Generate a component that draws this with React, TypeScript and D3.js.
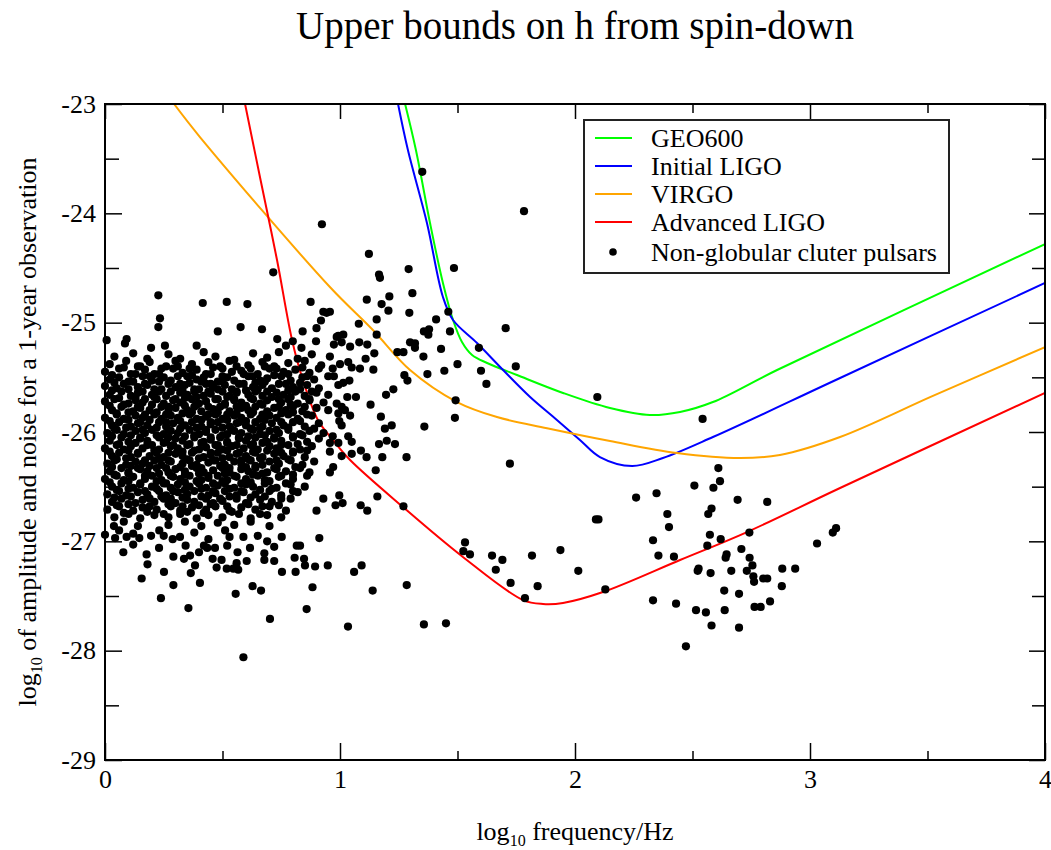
import React, { useEffect, useRef } from 'react';
import * as d3 from 'd3';

const W = 1051;
const H = 850;
const FONT = '"Liberation Serif", "Times New Roman", serif';

const xMajor = [0, 1, 2, 3, 4];
const xMinor = [0.5, 1.5, 2.5, 3.5];
const yMajor = [-29, -28, -27, -26, -25, -24, -23];
const yMinor = [-28.5, -27.5, -26.5, -25.5, -24.5, -23.5];

// sensitivity curves, [log10 f, log10 h]
const geo600: [number, number][] = [
  [1.277, -23.0], [1.323, -23.421], [1.383, -24.088], [1.438, -24.637], [1.481, -24.976],
  [1.519, -25.177], [1.562, -25.296], [1.626, -25.369], [1.753, -25.479], [1.949, -25.643],
  [2.149, -25.781], [2.319, -25.845], [2.447, -25.817], [2.587, -25.726], [2.86, -25.433],
  [4.0, -24.281],
];
const initialLigo: [number, number][] = [
  [1.247, -23.0], [1.289, -23.421], [1.37, -24.088], [1.438, -24.765], [1.481, -24.976],
  [1.583, -25.186], [1.694, -25.433], [1.809, -25.68], [1.923, -25.89], [2.021, -26.073],
  [2.106, -26.229], [2.243, -26.311], [2.374, -26.238], [2.587, -26.046], [3.128, -25.506],
  [4.0, -24.637],
];
const virgo: [number, number][] = [
  [0.294, -23.0], [0.404, -23.302], [0.957, -24.674], [1.14, -25.067], [1.298, -25.433],
  [1.498, -25.726], [1.668, -25.863], [1.881, -25.965], [2.149, -26.082], [2.434, -26.192],
  [2.702, -26.238], [2.872, -26.21], [3.128, -26.046], [3.523, -25.67], [4.0, -25.223],
];
const advancedLigo: [number, number][] = [
  [0.596, -23.0], [0.662, -23.695], [0.732, -24.427], [0.796, -25.159], [0.838, -25.497],
  [0.906, -25.89], [0.97, -26.073], [1.043, -26.256], [1.268, -26.686], [1.523, -27.143],
  [1.779, -27.537], [1.864, -27.573], [1.949, -27.564], [2.119, -27.464], [2.447, -27.171],
  [2.732, -26.915], [3.128, -26.512], [4.0, -25.643],
];

// pulsars in the dense low-frequency group
const pulsarsCore: [number, number][] = [
  [0.04,-25.31],[0.12,-25.28],[0.18,-25.33],[0.27,-25.29],[0.32,-25.33],[0.42,-25.27],[0.47,-25.31],[0.55,-25.34],[0.63,-25.28],[0.69,-25.32],[0.74,-25.27],[0.82,-25.33],[0.88,-25.29],
  [0.02,-25.38],[0.09,-25.35],[0.14,-25.4],[0.19,-25.36],[0.26,-25.4],[0.3,-25.35],[0.37,-25.38],[0.44,-25.36],[0.49,-25.4],[0.53,-25.35],[0.61,-25.39],[0.67,-25.36],[0.72,-25.4],[0.78,-25.37],[0.85,-25.35],[0.92,-25.39],
  [0.0,-25.45],[0.06,-25.42],[0.11,-25.47],[0.17,-25.43],[0.21,-25.47],[0.29,-25.42],[0.33,-25.46],[0.39,-25.43],[0.43,-25.47],[0.5,-25.42],[0.54,-25.45],[0.58,-25.44],[0.65,-25.47],[0.7,-25.42],[0.76,-25.45],[0.81,-25.43],[0.87,-25.46],[0.91,-25.42],
  [0.02,-25.52],[0.06,-25.5],[0.1,-25.54],[0.16,-25.49],[0.2,-25.53],[0.25,-25.5],[0.28,-25.53],[0.35,-25.49],[0.39,-25.52],[0.42,-25.5],[0.48,-25.54],[0.52,-25.5],[0.55,-25.53],[0.61,-25.49],[0.66,-25.53],[0.69,-25.51],[0.75,-25.49],[0.79,-25.53],[0.84,-25.5],[0.89,-25.52],[0.95,-25.49],
  [0.0,-25.58],[0.05,-25.6],[0.08,-25.56],[0.14,-25.59],[0.18,-25.57],[0.21,-25.61],[0.27,-25.56],[0.3,-25.59],[0.34,-25.57],[0.38,-25.61],[0.43,-25.56],[0.46,-25.59],[0.51,-25.57],[0.54,-25.61],[0.57,-25.56],[0.63,-25.59],[0.67,-25.57],[0.71,-25.6],[0.74,-25.56],[0.8,-25.59],[0.86,-25.57],[0.91,-25.6],
  [0.02,-25.66],[0.07,-25.63],[0.11,-25.67],[0.14,-25.64],[0.2,-25.66],[0.23,-25.63],[0.26,-25.67],[0.32,-25.64],[0.35,-25.66],[0.38,-25.63],[0.42,-25.67],[0.45,-25.65],[0.5,-25.63],[0.53,-25.67],[0.56,-25.64],[0.61,-25.66],[0.64,-25.63],[0.67,-25.67],[0.73,-25.64],[0.76,-25.66],[0.81,-25.63],[0.85,-25.67],[0.9,-25.64],[0.95,-25.66],
  [0.0,-25.72],[0.04,-25.7],[0.1,-25.74],[0.13,-25.71],[0.16,-25.73],[0.22,-25.7],[0.25,-25.74],[0.29,-25.71],[0.32,-25.73],[0.37,-25.7],[0.4,-25.74],[0.43,-25.72],[0.48,-25.7],[0.51,-25.74],[0.55,-25.71],[0.58,-25.73],[0.63,-25.7],[0.66,-25.74],[0.69,-25.71],[0.75,-25.73],[0.78,-25.7],[0.82,-25.74],[0.87,-25.71],[0.93,-25.73],
  [0.03,-25.8],[0.07,-25.77],[0.12,-25.81],[0.15,-25.78],[0.19,-25.8],[0.24,-25.77],[0.27,-25.81],[0.3,-25.78],[0.35,-25.8],[0.38,-25.77],[0.41,-25.81],[0.46,-25.79],[0.49,-25.77],[0.53,-25.81],[0.58,-25.78],[0.61,-25.8],[0.64,-25.77],[0.69,-25.81],[0.72,-25.78],[0.77,-25.8],[0.8,-25.77],[0.84,-25.81],[0.9,-25.78],[0.95,-25.8],
  [0.0,-25.87],[0.05,-25.84],[0.08,-25.88],[0.13,-25.85],[0.16,-25.87],[0.21,-25.84],[0.24,-25.88],[0.28,-25.85],[0.31,-25.87],[0.36,-25.84],[0.39,-25.88],[0.43,-25.86],[0.47,-25.84],[0.5,-25.88],[0.55,-25.85],[0.58,-25.87],[0.62,-25.84],[0.66,-25.88],[0.7,-25.85],[0.73,-25.87],[0.78,-25.84],[0.82,-25.88],[0.88,-25.85],
  [0.03,-25.94],[0.06,-25.91],[0.11,-25.95],[0.14,-25.92],[0.18,-25.94],[0.23,-25.91],[0.26,-25.95],[0.29,-25.92],[0.34,-25.94],[0.37,-25.91],[0.41,-25.95],[0.45,-25.93],[0.48,-25.91],[0.53,-25.95],[0.56,-25.92],[0.6,-25.94],[0.64,-25.91],[0.67,-25.95],[0.71,-25.92],[0.76,-25.94],[0.8,-25.91],[0.85,-25.95],[0.91,-25.92],
  [0.01,-26.01],[0.05,-25.98],[0.08,-26.02],[0.13,-25.99],[0.17,-26.01],[0.2,-25.98],[0.25,-26.02],[0.28,-25.99],[0.31,-26.01],[0.36,-25.98],[0.4,-26.02],[0.43,-26.0],[0.47,-25.98],[0.52,-26.02],[0.55,-25.99],[0.58,-26.01],[0.63,-25.98],[0.66,-26.02],[0.7,-25.99],[0.74,-26.01],[0.78,-25.98],[0.83,-26.02],[0.87,-25.99],[0.93,-26.01],
  [0.02,-26.08],[0.07,-26.05],[0.1,-26.09],[0.15,-26.06],[0.18,-26.08],[0.23,-26.05],[0.26,-26.09],[0.3,-26.06],[0.33,-26.08],[0.38,-26.05],[0.42,-26.09],[0.45,-26.07],[0.49,-26.05],[0.52,-26.09],[0.57,-26.06],[0.6,-26.08],[0.64,-26.05],[0.69,-26.09],[0.72,-26.06],[0.75,-26.08],[0.8,-26.05],[0.86,-26.09],[0.91,-26.06],
  [0.0,-26.15],[0.05,-26.12],[0.08,-26.16],[0.11,-26.13],[0.16,-26.15],[0.2,-26.12],[0.23,-26.16],[0.28,-26.13],[0.31,-26.15],[0.35,-26.12],[0.4,-26.16],[0.43,-26.14],[0.47,-26.12],[0.5,-26.16],[0.54,-26.13],[0.59,-26.15],[0.62,-26.12],[0.65,-26.16],[0.7,-26.13],[0.73,-26.15],[0.78,-26.12],[0.83,-26.16],[0.88,-26.13],
  [0.03,-26.22],[0.06,-26.19],[0.11,-26.23],[0.14,-26.2],[0.19,-26.22],[0.22,-26.19],[0.25,-26.23],[0.3,-26.2],[0.33,-26.22],[0.37,-26.19],[0.42,-26.23],[0.45,-26.21],[0.48,-26.19],[0.53,-26.23],[0.56,-26.2],[0.6,-26.22],[0.64,-26.19],[0.67,-26.23],[0.72,-26.2],[0.76,-26.22],[0.8,-26.19],[0.85,-26.23],
  [0.01,-26.29],[0.04,-26.26],[0.09,-26.3],[0.13,-26.27],[0.16,-26.29],[0.21,-26.26],[0.24,-26.3],[0.28,-26.27],[0.33,-26.29],[0.36,-26.26],[0.39,-26.3],[0.44,-26.28],[0.47,-26.26],[0.51,-26.3],[0.55,-26.27],[0.58,-26.29],[0.62,-26.26],[0.67,-26.3],[0.7,-26.27],[0.74,-26.29],[0.79,-26.26],[0.84,-26.3],[0.89,-26.27],
  [0.02,-26.36],[0.07,-26.33],[0.1,-26.37],[0.15,-26.34],[0.18,-26.36],[0.22,-26.33],[0.27,-26.37],[0.3,-26.34],[0.34,-26.36],[0.39,-26.33],[0.42,-26.37],[0.46,-26.35],[0.5,-26.33],[0.53,-26.37],[0.58,-26.34],[0.61,-26.36],[0.64,-26.33],[0.69,-26.37],[0.73,-26.34],[0.77,-26.36],[0.83,-26.33],[0.87,-26.37],
  [0.0,-26.43],[0.05,-26.4],[0.08,-26.44],[0.12,-26.41],[0.17,-26.43],[0.2,-26.4],[0.24,-26.44],[0.29,-26.41],[0.32,-26.43],[0.36,-26.4],[0.41,-26.44],[0.44,-26.42],[0.48,-26.4],[0.52,-26.44],[0.56,-26.41],[0.6,-26.43],[0.65,-26.4],[0.68,-26.44],[0.74,-26.41],[0.8,-26.43],[0.86,-26.4],
  [0.03,-26.5],[0.07,-26.47],[0.12,-26.51],[0.15,-26.48],[0.2,-26.5],[0.25,-26.47],[0.28,-26.51],[0.31,-26.48],[0.36,-26.5],[0.4,-26.47],[0.43,-26.51],[0.48,-26.49],[0.51,-26.47],[0.55,-26.51],[0.6,-26.48],[0.63,-26.5],[0.68,-26.47],[0.73,-26.51],[0.79,-26.48],[0.85,-26.5],
  [0.01,-26.57],[0.06,-26.54],[0.09,-26.58],[0.14,-26.55],[0.18,-26.57],[0.23,-26.54],[0.26,-26.58],[0.31,-26.55],[0.35,-26.57],[0.38,-26.54],[0.44,-26.58],[0.47,-26.56],[0.51,-26.54],[0.56,-26.58],[0.59,-26.55],[0.64,-26.57],[0.7,-26.54],[0.75,-26.58],[0.82,-26.55],
  [0.03,-26.64],[0.07,-26.61],[0.13,-26.65],[0.16,-26.62],[0.21,-26.64],[0.25,-26.61],[0.3,-26.65],[0.35,-26.62],[0.38,-26.64],[0.43,-26.61],[0.46,-26.65],[0.5,-26.63],[0.56,-26.61],[0.6,-26.65],[0.66,-26.62],[0.71,-26.64],[0.79,-26.61],
  [0.01,-26.71],[0.06,-26.68],[0.12,-26.72],[0.16,-26.69],[0.22,-26.71],[0.28,-26.68],[0.32,-26.72],[0.37,-26.69],[0.43,-26.71],[0.47,-26.68],[0.53,-26.72],[0.58,-26.69],[0.64,-26.71],[0.7,-26.68],[0.77,-26.72],
  [0.04,-26.78],[0.1,-26.75],[0.15,-26.79],[0.21,-26.76],[0.27,-26.78],[0.32,-26.75],[0.39,-26.79],[0.44,-26.76],[0.5,-26.78],[0.57,-26.75],[0.62,-26.79],[0.69,-26.76],[0.75,-26.78],
  [0.08,-26.82],[0.14,-26.86],[0.27,-26.85],[0.34,-26.82],[0.41,-26.86],[0.48,-26.83],[0.55,-26.85],[0.62,-26.82],[0.7,-26.86],
  [0.06,-26.9],[0.12,-26.93],[0.25,-26.95],[0.38,-26.92],[0.44,-26.98],[0.53,-26.96],[0.65,-26.95],[0.69,-27.0],[0.12,-27.03],[0.23,-27.06],[0.4,-27.1],[0.52,-27.04],
];

// second layer of the dense group, between the rows above
const pulsarsCoreFill: [number, number][] = [
  [0.08,-25.41],[0.15,-25.4],[0.24,-25.42],[0.31,-25.4],[0.36,-25.42],[0.46,-25.41],[0.56,-25.4],[0.62,-25.42],[0.68,-25.4],[0.73,-25.42],[0.84,-25.41],
  [0.03,-25.48],[0.13,-25.47],[0.19,-25.49],[0.23,-25.47],[0.31,-25.49],[0.37,-25.48],[0.45,-25.47],[0.5,-25.49],[0.59,-25.47],[0.63,-25.49],[0.72,-25.48],[0.78,-25.47],[0.86,-25.49],
  [0.04,-25.55],[0.12,-25.54],[0.17,-25.56],[0.23,-25.54],[0.32,-25.56],[0.36,-25.55],[0.41,-25.54],[0.45,-25.56],[0.5,-25.54],[0.59,-25.56],[0.64,-25.55],[0.68,-25.54],[0.77,-25.56],[0.83,-25.55],
  [0.03,-25.62],[0.1,-25.61],[0.16,-25.63],[0.24,-25.61],[0.28,-25.63],[0.33,-25.62],[0.4,-25.61],[0.44,-25.63],[0.48,-25.61],[0.56,-25.63],[0.6,-25.62],[0.65,-25.61],[0.69,-25.63],[0.78,-25.62],[0.83,-25.61],[0.88,-25.63],
  [0.06,-25.69],[0.13,-25.68],[0.17,-25.7],[0.21,-25.68],[0.3,-25.7],[0.34,-25.69],[0.39,-25.68],[0.47,-25.7],[0.52,-25.68],[0.55,-25.7],[0.62,-25.69],[0.71,-25.68],[0.74,-25.7],[0.79,-25.68],[0.87,-25.7],
  [0.02,-25.76],[0.08,-25.75],[0.14,-25.77],[0.2,-25.75],[0.27,-25.77],[0.34,-25.76],[0.39,-25.75],[0.44,-25.77],[0.51,-25.75],[0.56,-25.77],[0.6,-25.76],[0.67,-25.75],[0.74,-25.77],[0.79,-25.75],[0.85,-25.77],
  [0.05,-25.83],[0.1,-25.82],[0.17,-25.84],[0.22,-25.82],[0.26,-25.84],[0.33,-25.83],[0.37,-25.82],[0.44,-25.84],[0.48,-25.82],[0.52,-25.84],[0.56,-25.83],[0.63,-25.82],[0.67,-25.84],[0.75,-25.83],[0.8,-25.82],[0.86,-25.84],
  [0.02,-25.9],[0.1,-25.89],[0.15,-25.91],[0.19,-25.89],[0.26,-25.91],[0.32,-25.9],[0.41,-25.89],[0.45,-25.91],[0.52,-25.89],[0.57,-25.91],[0.6,-25.9],[0.68,-25.89],[0.75,-25.91],[0.83,-25.9],
  [0.04,-25.97],[0.09,-25.96],[0.16,-25.98],[0.22,-25.96],[0.27,-25.98],[0.32,-25.97],[0.39,-25.96],[0.43,-25.98],[0.5,-25.96],[0.54,-25.98],[0.62,-25.97],[0.66,-25.96],[0.73,-25.98],[0.78,-25.96],[0.89,-25.97],
  [0.03,-26.04],[0.11,-26.03],[0.15,-26.05],[0.22,-26.03],[0.27,-26.05],[0.34,-26.04],[0.38,-26.03],[0.45,-26.05],[0.5,-26.03],[0.57,-26.05],[0.61,-26.04],[0.68,-26.03],[0.72,-26.05],[0.8,-26.04],[0.84,-26.03],
  [0.06,-26.11],[0.13,-26.1],[0.18,-26.12],[0.25,-26.1],[0.29,-26.12],[0.36,-26.11],[0.41,-26.1],[0.48,-26.12],[0.52,-26.1],[0.56,-26.12],[0.63,-26.11],[0.67,-26.1],[0.75,-26.12],[0.82,-26.11],
  [0.02,-26.18],[0.1,-26.17],[0.14,-26.19],[0.21,-26.17],[0.27,-26.19],[0.33,-26.18],[0.38,-26.17],[0.45,-26.19],[0.52,-26.17],[0.57,-26.19],[0.63,-26.18],[0.69,-26.17],[0.75,-26.19],[0.8,-26.18],[0.86,-26.17],
  [0.05,-26.25],[0.09,-26.24],[0.17,-26.26],[0.23,-26.24],[0.27,-26.26],[0.35,-26.25],[0.4,-26.24],[0.46,-26.26],[0.5,-26.24],[0.58,-26.26],[0.61,-26.25],[0.66,-26.24],[0.73,-26.26],[0.78,-26.25],
  [0.03,-26.32],[0.11,-26.31],[0.14,-26.33],[0.19,-26.31],[0.26,-26.33],[0.32,-26.32],[0.37,-26.31],[0.41,-26.33],[0.49,-26.31],[0.53,-26.33],[0.6,-26.32],[0.64,-26.31],[0.72,-26.33],[0.81,-26.32],
  [0.04,-26.39],[0.1,-26.38],[0.17,-26.4],[0.23,-26.38],[0.28,-26.4],[0.34,-26.39],[0.4,-26.38],[0.44,-26.4],[0.51,-26.38],[0.55,-26.4],[0.63,-26.39],[0.67,-26.38],[0.75,-26.4],[0.8,-26.39],
  [0.02,-26.46],[0.1,-26.45],[0.15,-26.47],[0.22,-26.45],[0.26,-26.47],[0.34,-26.46],[0.39,-26.45],[0.46,-26.47],[0.5,-26.45],[0.58,-26.47],[0.62,-26.46],[0.7,-26.45],[0.77,-26.47],
  [0.05,-26.53],[0.1,-26.52],[0.17,-26.54],[0.22,-26.52],[0.29,-26.54],[0.34,-26.53],[0.41,-26.52],[0.46,-26.54],[0.53,-26.52],[0.58,-26.54],[0.66,-26.53],[0.71,-26.52],[0.8,-26.54],
  [0.04,-26.6],[0.11,-26.59],[0.19,-26.61],[0.24,-26.59],[0.28,-26.61],[0.33,-26.6],[0.41,-26.59],[0.49,-26.61],[0.53,-26.59],[0.62,-26.6],[0.68,-26.59],[0.75,-26.61],
  [0.05,-26.67],[0.1,-26.66],[0.19,-26.68],[0.27,-26.66],[0.33,-26.68],[0.4,-26.67],[0.45,-26.66],[0.52,-26.68],[0.61,-26.66],[0.67,-26.68],[0.74,-26.67],
  [0.08,-26.74],[0.18,-26.73],[0.25,-26.75],[0.35,-26.73],[0.42,-26.74],[0.54,-26.73],[0.66,-26.75],
];

// pulsars read one by one outside the dense group
const pulsarsOuter: [number, number][] = [
  [1.35,-23.62],[1.783,-23.98],[0.923,-24.1],[0.716,-24.54],[1.123,-24.37],[1.166,-24.56],[1.17,-24.59],[1.292,-24.51],[1.485,-24.5],
  [1.308,-24.73],[1.21,-24.76],[1.114,-24.79],[1.177,-24.83],[1.206,-24.89],[1.295,-24.91],[1.461,-24.9],[1.409,-24.97],[1.156,-24.97],
  [1.08,-25.01],[1.705,-25.05],[1.357,-25.08],[1.379,-25.06],[1.376,-25.11],[1.468,-25.08],[1.156,-25.11],[0.957,-24.9],[1.014,-25.11],
  [0.993,-25.12],[0.974,-25.2],[1.007,-25.18],[1.043,-25.22],[1.082,-25.18],[1.116,-25.2],[1.146,-25.28],[1.109,-25.33],[1.085,-25.42],
  [1.142,-25.43],[1.05,-25.41],[1.035,-25.36],[1.0,-25.38],[0.969,-25.42],[0.974,-25.49],[0.957,-25.31],[1.298,-25.18],[1.319,-25.19],
  [1.319,-25.23],[1.244,-25.27],[1.27,-25.27],[1.43,-25.24],[1.355,-25.31],[1.591,-25.23],[1.5,-25.38],[1.444,-25.44],[1.6,-25.44],
  [1.748,-25.4],[1.372,-25.47],[1.274,-25.48],[1.287,-25.53],[1.623,-25.56],[1.014,-25.55],[0.993,-25.57],[1.04,-25.53],[1.227,-25.61],
  [1.196,-25.66],[1.068,-25.68],[1.031,-25.68],[2.095,-25.68],[1.492,-25.71],[1.13,-25.75],[0.986,-25.74],[1.007,-25.77],[1.021,-25.8],
  [0.993,-25.83],[1.043,-25.85],[1.174,-25.86],[1.489,-25.87],[0.997,-25.9],[1.007,-25.94],[1.22,-25.94],[1.191,-25.97],[1.359,-25.95],
  [0.969,-26.04],[1.035,-26.04],[1.05,-26.09],[0.993,-26.1],[0.957,-26.1],[1.199,-26.08],[1.234,-26.11],[1.166,-26.11],[1.089,-26.17],
  [1.05,-26.2],[1.007,-26.22],[1.113,-26.23],[1.18,-26.23],[1.283,-26.23],[0.957,-26.18],[1.723,-26.29],[0.971,-26.32],[0.957,-26.37],
  [1.152,-26.35],[0.997,-26.58],[1.159,-26.59],[0.981,-26.67],[1.011,-26.65],[1.088,-26.67],[1.116,-26.72],[1.27,-26.68],[2.089,-26.8],
  [2.1,-26.8],[1.532,-27.01],[1.525,-27.09],[1.553,-27.12],[1.647,-27.13],[1.691,-27.17],[1.663,-27.26],[1.817,-27.13],[1.938,-27.08],
  [2.014,-27.27],[1.726,-27.38],[1.841,-27.41],[1.787,-27.52],[2.129,-27.44],[1.092,-27.22],[1.06,-27.28],[1.284,-27.4],[1.139,-27.45],
  [1.034,-27.78],[1.357,-27.76],[1.451,-27.75],
  [2.543,-25.88],[2.61,-26.33],[2.617,-26.45],[2.589,-26.51],[2.508,-26.49],[2.347,-26.56],[2.26,-26.6],[2.692,-26.62],[2.818,-26.64],
  [2.581,-26.7],[2.567,-26.75],[2.393,-26.75],[2.4,-26.87],[2.574,-26.94],[2.742,-26.92],[2.62,-26.98],[2.332,-26.99],[2.563,-27.04],
  [2.708,-27.07],[3.03,-27.02],[3.097,-26.92],[3.111,-26.88],[2.645,-27.12],[2.641,-27.15],[2.355,-27.13],[2.421,-27.14],[2.743,-27.15],
  [2.755,-27.22],[2.526,-27.25],[2.522,-27.27],[2.577,-27.29],[2.665,-27.27],[2.731,-27.27],[2.882,-27.25],[2.937,-27.25],[2.759,-27.32],
  [2.762,-27.37],[2.801,-27.34],[2.818,-27.34],[2.88,-27.41],[2.635,-27.45],[2.698,-27.48],[2.332,-27.54],[2.43,-27.57],[2.83,-27.55],
  [2.764,-27.6],[2.79,-27.6],[2.515,-27.63],[2.557,-27.65],[2.637,-27.63],[2.581,-27.77],[2.698,-27.79],[2.472,-27.96],
  [0.007,-25.16],[0.227,-24.75],[0.234,-24.96],[0.227,-25.04],[0.416,-24.82],[0.518,-24.81],[0.606,-24.83],[0.875,-24.81],[0.577,-25.04],
  [0.48,-25.08],[0.668,-25.06],[0.092,-25.15],[0.085,-25.19],[0.196,-25.23],[0.255,-25.21],[0.39,-25.21],[0.929,-24.9],[0.943,-24.91],
  [0.919,-24.98],[0.9,-25.05],[0.841,-25.08],[0.799,-25.17],[0.733,-25.15],[0.77,-25.21],[0.836,-25.23],[0.898,-25.17],[0.986,-25.13],
  [0.0,-26.94],[0.078,-27.1],[0.156,-27.34],[0.238,-27.52],[0.355,-27.61],[0.291,-27.4],[0.251,-27.28],[0.404,-27.38],[0.365,-27.29],
  [0.383,-27.22],[0.556,-27.48],[0.628,-27.41],[0.664,-27.45],[0.702,-27.71],[0.589,-28.06],[0.858,-27.62],[0.883,-27.42],[0.894,-27.23],
  [0.948,-27.22],[0.851,-27.22],[0.847,-27.16],[0.811,-27.28],[0.753,-27.28],[0.807,-27.15],[0.912,-26.97],[0.816,-27.04],[0.83,-27.04],
  [0.177,-27.12],[0.181,-27.21],[0.146,-26.97],[0.196,-26.95],[0.043,-26.97],[0.038,-26.86],[0.092,-26.96],[0.231,-26.9],[0.288,-26.98],
  [0.319,-26.96],[0.343,-27.04],[0.291,-27.14],[0.336,-27.16],[0.362,-27.13],[0.421,-27.04],[0.435,-27.06],[0.468,-27.06],[0.458,-27.16],
  [0.496,-27.17],[0.475,-27.24],[0.518,-27.25],[0.546,-27.25],[0.567,-27.26],[0.56,-27.2],[0.603,-27.18],[0.564,-27.1],[0.511,-26.9],
  [0.589,-26.96],[0.617,-27.06],[0.678,-27.11],[0.678,-27.17],[0.72,-27.18],[0.72,-27.05],[0.752,-26.96],[0.9,-26.72],[0.929,-26.61],
];

const curveNames = ['GEO600', 'Initial LIGO', 'VIRGO', 'Advanced LIGO'];
const curveColors = ['#00ff00', '#0000ff', '#ffa500', '#ff0000'];
const curveData = [geo600, initialLigo, virgo, advancedLigo];
const pointsLabel = 'Non-globular cluter pulsars';

export default function App() {
  const svgRef = useRef<SVGSVGElement>(null);

  useEffect(() => {
    if (!svgRef.current) return;
    const svg = d3.select(svgRef.current);
    svg.selectAll('*').remove();

    const left = 105, right = 1045, top = 104, bottom = 760;
    const x = d3.scaleLinear().domain([0, 4]).range([left, right]);
    const y = d3.scaleLinear().domain([-29, -23]).range([bottom, top]);

    svg.append('rect').attr('width', W).attr('height', H).attr('fill', '#fff');

    svg.append('clipPath').attr('id', 'plot-clip')
      .append('rect').attr('x', left).attr('y', top)
      .attr('width', right - left).attr('height', bottom - top);

    // curves
    const line = d3.line<[number, number]>()
      .x(d => x(d[0]))
      .y(d => y(d[1]))
      .curve(d3.curveCatmullRom.alpha(0.5));

    const curves = svg.append('g').attr('clip-path', 'url(#plot-clip)');
    curveData.forEach((data, i) => {
      curves.append('path')
        .attr('d', line(data) as string)
        .attr('fill', 'none')
        .attr('stroke', curveColors[i])
        .attr('stroke-width', 2);
    });

    // pulsars
    const dots = svg.append('g');
    dots.selectAll('circle')
      .data([...pulsarsCore, ...pulsarsCoreFill, ...pulsarsOuter])
      .join('circle')
      .attr('cx', d => x(d[0]))
      .attr('cy', d => y(d[1]))
      .attr('r', 4.1)
      .attr('fill', '#000');

    // axes (ticks point inward on all four sides)
    const styleAxis = (g: d3.Selection<SVGGElement, unknown, null, undefined>) => {
      g.select('.domain').remove();
      g.selectAll('line').attr('stroke', '#000').attr('stroke-width', 1.5);
      g.attr('font-family', FONT).attr('font-size', 26);
      g.selectAll('text').attr('fill', '#000');
    };

    svg.append('g').attr('transform', `translate(0,${bottom})`)
      .call(d3.axisBottom(x).tickValues(xMajor).tickSizeInner(-17).tickSizeOuter(0).tickPadding(10).tickFormat(d3.format('d')))
      .call(styleAxis);
    svg.append('g').attr('transform', `translate(0,${bottom})`)
      .call(d3.axisBottom(x).tickValues(xMinor).tickSizeInner(-9).tickSizeOuter(0).tickFormat(() => ''))
      .call(styleAxis);
    svg.append('g').attr('transform', `translate(0,${top})`)
      .call(d3.axisTop(x).tickValues(xMajor).tickSizeInner(-15).tickSizeOuter(0).tickFormat(() => ''))
      .call(styleAxis);
    svg.append('g').attr('transform', `translate(0,${top})`)
      .call(d3.axisTop(x).tickValues(xMinor).tickSizeInner(-9).tickSizeOuter(0).tickFormat(() => ''))
      .call(styleAxis);
    svg.append('g').attr('transform', `translate(${left},0)`)
      .call(d3.axisLeft(y).tickValues(yMajor).tickSizeInner(-17).tickSizeOuter(0).tickPadding(9).tickFormat(d => `-${Math.abs(+d)}`))
      .call(styleAxis);
    svg.append('g').attr('transform', `translate(${left},0)`)
      .call(d3.axisLeft(y).tickValues(yMinor).tickSizeInner(-14).tickSizeOuter(0).tickFormat(() => ''))
      .call(styleAxis);
    svg.append('g').attr('transform', `translate(${right},0)`)
      .call(d3.axisRight(y).tickValues(yMajor).tickSizeInner(-16).tickSizeOuter(0).tickFormat(() => ''))
      .call(styleAxis);
    svg.append('g').attr('transform', `translate(${right},0)`)
      .call(d3.axisRight(y).tickValues(yMinor).tickSizeInner(-13).tickSizeOuter(0).tickFormat(() => ''))
      .call(styleAxis);

    svg.append('rect')
      .attr('x', left).attr('y', top)
      .attr('width', right - left).attr('height', bottom - top)
      .attr('fill', 'none').attr('stroke', '#000').attr('stroke-width', 2);

    // title and axis labels
    svg.append('text')
      .attr('x', (left + right) / 2).attr('y', 39)
      .attr('text-anchor', 'middle')
      .attr('font-family', FONT).attr('font-size', 39)
      .text('Upper bounds on h from spin-down');

    const xl = svg.append('text')
      .attr('x', (left + right) / 2).attr('y', 840)
      .attr('text-anchor', 'middle')
      .attr('font-family', FONT).attr('font-size', 26);
    xl.append('tspan').text('log');
    xl.append('tspan').attr('font-size', 16).attr('dy', 6).text('10');
    xl.append('tspan').attr('dy', -6).text(' frequency/Hz');

    const yl = svg.append('text')
      .attr('transform', `translate(36,${(top + bottom) / 2}) rotate(-90)`)
      .attr('text-anchor', 'middle')
      .attr('font-family', FONT).attr('font-size', 26);
    yl.append('tspan').text('log');
    yl.append('tspan').attr('font-size', 16).attr('dy', 6).text('10');
    yl.append('tspan').attr('dy', -6).text(' of amplitude and noise for a 1-year observation');

    // legend
    const lg = svg.append('g');
    lg.append('rect')
      .attr('x', 584).attr('y', 120).attr('width', 365).attr('height', 153)
      .attr('fill', '#fff').attr('stroke', '#222').attr('stroke-width', 2);
    const rowY = [138, 166, 194, 222, 252];
    curveNames.forEach((name, i) => {
      lg.append('line')
        .attr('x1', 595).attr('x2', 632).attr('y1', rowY[i]).attr('y2', rowY[i])
        .attr('stroke', curveColors[i]).attr('stroke-width', 2);
      lg.append('text')
        .attr('x', 651).attr('y', rowY[i] + 9)
        .attr('font-family', FONT).attr('font-size', 26)
        .text(name);
    });
    lg.append('circle').attr('cx', 613).attr('cy', rowY[4]).attr('r', 3.8).attr('fill', '#000');
    lg.append('text')
      .attr('x', 651).attr('y', rowY[4] + 9)
      .attr('font-family', FONT).attr('font-size', 26)
      .text(pointsLabel);
  }, []);

  return (
    <svg
      ref={svgRef}
      width={W}
      height={H}
      viewBox={`0 0 ${W} ${H}`}
      style={{ position: 'absolute', left: 0, top: 0, display: 'block' }}
    />
  );
}
